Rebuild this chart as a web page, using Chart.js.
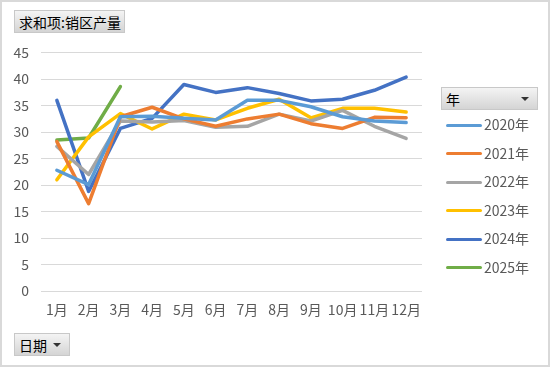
<!DOCTYPE html>
<html>
<head>
<meta charset="utf-8">
<script src="https://cdn.jsdelivr.net/npm/chart.js@4"></script>
<style>
  body { margin: 0; background: #fff; }
  #wrap {
    position: relative; width: 550px; height: 367px; box-sizing: border-box;
    border: 2px solid #d9d9d9; overflow: hidden;
    font-family: "Noto Sans CJK SC", sans-serif;
  }
  #chart { position: absolute; left: -2px; top: -2px; }
  .btn {
    position: absolute; box-sizing: border-box; height: 23px; line-height: 22px;
    padding-left: 4px; font-size: 14px; color: #000;
    background: linear-gradient(#f4f4f4, #d4d4d4);
    border: 1px solid #c8c8c8;
  }
  .btn .arrow {
    position: absolute; right: 8px; top: 9px; width: 0; height: 0;
    border-left: 4px solid transparent; border-right: 4px solid transparent;
    border-top: 4px solid #333;
  }
  .leg { position: absolute; left: 444px; font-size: 14px; color: #595959; height: 20px; line-height: 20px; }
  .leg span.mk { display: inline-block; width: 36px; height: 3px; border-radius: 2px; vertical-align: middle; margin-right: 2px; position: relative; top: -1px; }
</style>
</head>
<body>
<div id="wrap">
  <canvas id="chart" width="550" height="367"></canvas>
  <div class="btn" style="left:12px;top:8px;width:111px;">求和项:销区产量</div>
  <div class="btn" style="left:12px;top:331px;width:56px;">日期<div class="arrow"></div></div>
  <div class="btn" style="left:439px;top:85px;width:97px;">年<div class="arrow"></div></div>
  <div id="legend"></div>
</div>
<script>
const months = ["1月", "2月", "3月", "4月", "5月", "6月", "7月", "8月", "9月", "10月", "11月", "12月"]
const years = ["2020年", "2021年", "2022年", "2023年", "2024年", "2025年"]
const colors = ["#5B9BD5", "#ED7D31", "#A5A5A5", "#FFC000", "#4472C4", "#70AD47"]

const y2020 = [22.8, 20.1, 32.9, 33.0, 32.6, 32.3, 36.0, 36.0, 34.8, 32.9, 32.1, 31.8]
const y2021 = [28.2, 16.5, 32.9, 34.7, 32.5, 31.1, 32.5, 33.4, 31.6, 30.7, 32.8, 32.7]
const y2022 = [27.3, 22.0, 32.1, 31.9, 32.2, 30.9, 31.1, 33.4, 32.1, 34.1, 31.1, 28.8]
const y2023 = [21.0, 29.1, 33.5, 30.6, 33.4, 32.3, 34.5, 36.2, 32.7, 34.5, 34.5, 33.8]
const y2024 = [36.0, 18.8, 30.7, 32.6, 39.0, 37.5, 38.4, 37.3, 35.9, 36.2, 37.9, 40.4]
const y2025 = [28.5, 28.9, 38.6]

const seriesData = [y2020, y2021, y2022, y2023, y2024, y2025]
const yTicks = [0, 5, 10, 15, 20, 25, 30, 35, 40, 45]

const FONT = "'Noto Sans CJK SC', sans-serif"

// legend built from the series list
const legendEl = document.getElementById("legend")
years.forEach((y, i) => {
    const d = document.createElement("div")
    d.className = "leg"
    d.style.top = (112 + i * 28.5) + "px"
    d.innerHTML = '<span class="mk" style="background:' + colors[i] + '"></span>' + y
    legendEl.appendChild(d)
})

new Chart(document.getElementById("chart"), {
    type: "line",
    data: {
        labels: months,
        datasets: years.map((y, i) => ({
            label: y,
            data: seriesData[i],
            borderColor: colors[i],
            backgroundColor: colors[i],
            borderWidth: 3.5,
            pointRadius: 0,
            tension: 0,
            borderJoinStyle: "round",
            borderCapStyle: "round"
        }))
    },
    options: {
        responsive: false,
        animation: false,
        layout: { padding: { left: 0, top: 52.7, right: 128, bottom: 0 } },
        plugins: {
            legend: { display: false },
            tooltip: { enabled: false }
        },
        scales: {
            x: {
                offset: true,
                grid: { display: false, drawTicks: false },
                border: { display: false },
                ticks: { color: "#595959", font: { family: FONT, size: 14 }, padding: 10, maxRotation: 0, autoSkip: false },
                afterFit: s => { s.height = 76 }
            },
            y: {
                min: 0,
                max: 45,
                afterBuildTicks: s => { s.ticks = yTicks.map(v => ({ value: v })) },
                grid: { color: "#d9d9d9", lineWidth: 1, drawTicks: false },
                border: { display: false },
                ticks: { color: "#595959", font: { family: FONT, size: 14 }, padding: 12 },
                afterFit: s => { s.width = 41 }
            }
        }
    }
})
</script>
</body>
</html>
